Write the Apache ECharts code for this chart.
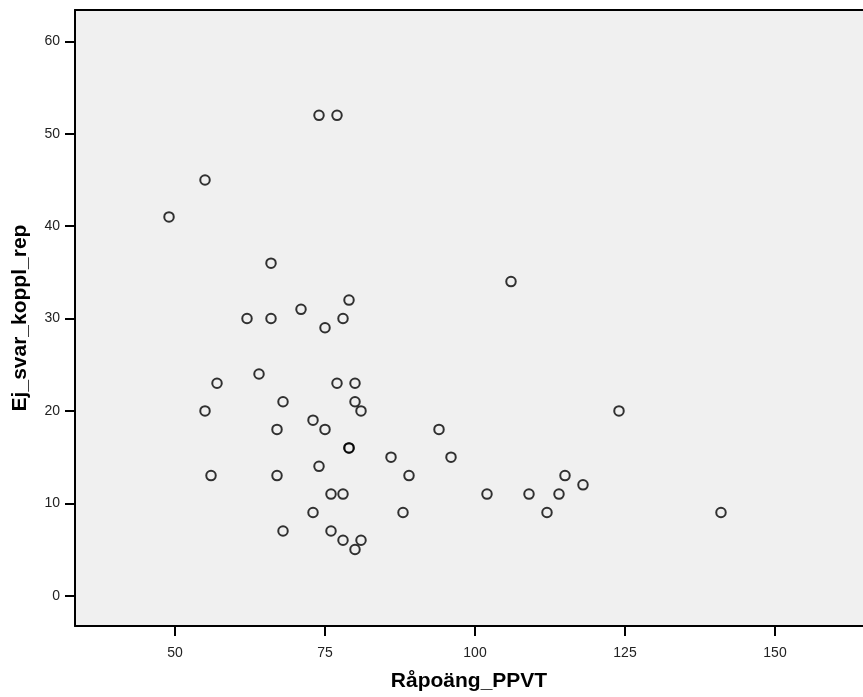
<!DOCTYPE html>
<html>
<head>
<meta charset="utf-8">
<script src="https://cdn.jsdelivr.net/npm/echarts@6/dist/echarts.min.js"></script>
<style>
html,body{margin:0;padding:0;background:#fff;}
#chart{width:863px;height:697px;}
</style>
</head>
<body>
<div id="chart"></div>
<script>
// Råpoäng_PPVT (x) values
var xValues = [74,77,55,49,66,106,79,71,62,66,78,75,64,57,77,80,68,80,55,81,124,73,67,75,94,79,79,86,96,74,56,67,89,115,118,76,78,102,109,114,73,88,112,141,68,76,78,81,80];
// Ej_svar_koppl_rep (y) values
var yValues = [52,52,45,41,36,34,32,31,30,30,30,29,24,23,23,23,21,21,20,20,20,19,18,18,18,16,16,15,15,14,13,13,13,13,12,11,11,11,11,11,9,9,9,9,7,7,6,6,5];
var xTicks = [50,75,100,125,150];
var yTicks = [0,10,20,30,40,50,60];
var xTitle = 'Råpoäng_PPVT';
var yTitle = 'Ej_svar_koppl_rep';

var points = xValues.map(function(x,i){ return [x, yValues[i]]; });

var chart = echarts.init(document.getElementById('chart'), null, {renderer:'canvas'});
var font = 'Arial, "Liberation Sans", sans-serif';
var xMin = 33.33, xMax = 164.67;
chart.setOption({
  animation:false,
  backgroundColor:'#ffffff',
  grid:{
    left:75, top:10, right:0, bottom:70,
    show:true, backgroundColor:'#F0F0F0', borderWidth:0
  },
  xAxis:[{
    type:'value', min:xMin, max:xMax, position:'bottom',
    name:xTitle, nameLocation:'middle', nameGap:45,
    nameTextStyle:{fontFamily:font, fontWeight:'bold', fontSize:21, color:'#000'},
    axisLine:{show:true, onZero:false, lineStyle:{color:'#000', width:2}},
    axisTick:{show:true, inside:false, length:10, customValues:xTicks, lineStyle:{color:'#000', width:2}},
    axisLabel:{customValues:xTicks, margin:20, fontFamily:font, fontSize:14, color:'#222'},
    splitLine:{show:false}
  },{
    type:'value', min:xMin, max:xMax, position:'top',
    axisLine:{show:true, onZero:false, lineStyle:{color:'#000', width:2}},
    axisTick:{show:false},
    axisLabel:{show:false},
    splitLine:{show:false}
  }],
  yAxis:{
    type:'value', min:-3.28, max:63.4,
    name:yTitle, nameLocation:'middle', nameGap:44, nameRotate:90,
    nameTextStyle:{fontFamily:font, fontWeight:'bold', fontSize:21, color:'#000'},
    axisLine:{show:true, onZero:false, lineStyle:{color:'#000', width:2}},
    axisTick:{show:true, inside:false, length:10, customValues:yTicks, lineStyle:{color:'#000', width:2}},
    axisLabel:{customValues:yTicks, margin:15, fontFamily:font, fontSize:14, color:'#222'},
    splitLine:{show:false}
  },
  series:[{
    type:'scatter',
    xAxisIndex:0,
    data:points,
    symbol:'circle',
    symbolSize:9.5,
    itemStyle:{color:'rgba(0,0,0,0)', borderColor:'#000', borderWidth:2},
    emphasis:{disabled:true},
    silent:true
  }]
});
</script>
</body>
</html>
